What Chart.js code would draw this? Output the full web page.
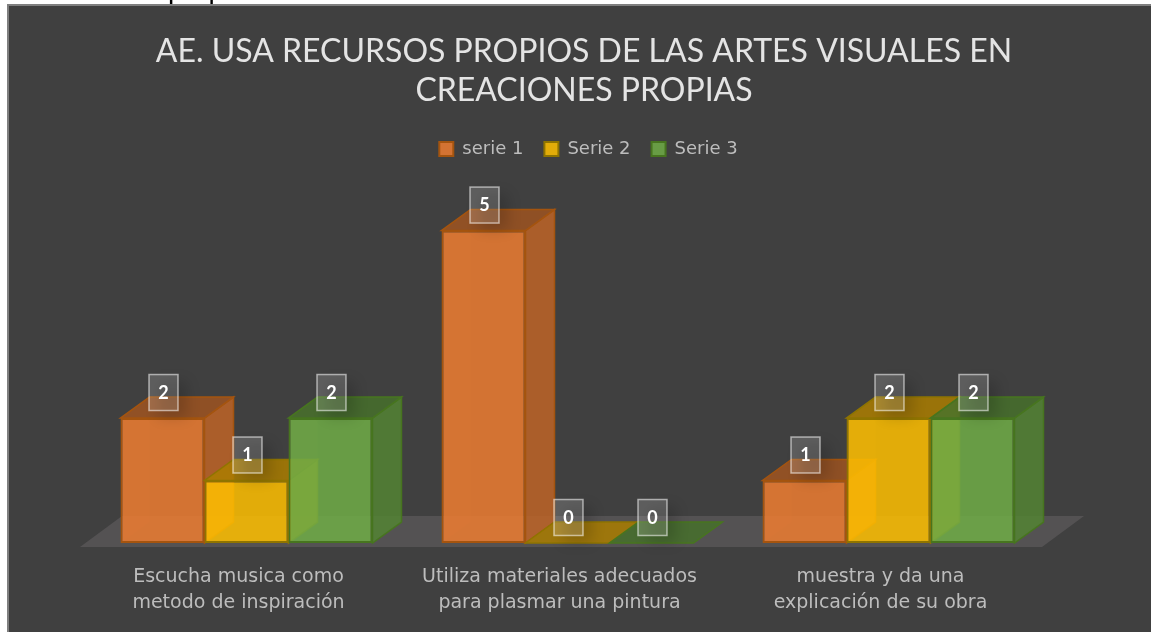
<!DOCTYPE html>
<html>
<head>
<meta charset="utf-8">
<style>html,body{margin:0;padding:0;background:#fff;overflow:hidden}canvas{display:block}</style>
<script src="https://cdn.jsdelivr.net/npm/chart.js@4"></script>
</head>
<body>
<canvas id="c" width="1151" height="632" style="width:1151px;height:632px"></canvas>
<script>
const titleLines = ['AE. USA RECURSOS PROPIOS DE LAS ARTES VISUALES EN', 'CREACIONES PROPIAS'];
const categories = [
  ['Escucha musica como', 'metodo de inspiración'],
  ['Utiliza materiales adecuados', 'para plasmar una pintura'],
  ['muestra y da una', 'explicación de su obra']
];
const serieNames = ['serie 1', 'Serie 2', 'Serie 3'];
const serie1 = [2, 5, 1];
const serie2 = [1, 0, 2];
const serie3 = [2, 0, 2];
const clippedText = 'propias';

const frontColors = ['rgba(237,125,49,.85)', 'rgba(255,192,0,.85)', 'rgba(112,173,71,.85)'];
const sideColors  = ['rgba(190,100,39,.85)', 'rgba(190,145,0,.85)', 'rgba(83,132,52,.85)'];
const topColors   = ['rgba(157,84,33,.85)', 'rgba(170,124,0,.85)', 'rgba(71,112,43,.85)'];
const edgeColors  = ['#a4540f', '#8f7400', '#47751f'];
const DX = 29, DY = 21;

function poly(ctx, pts, fill, stroke) {
  ctx.beginPath();
  pts.forEach((p, i) => i ? ctx.lineTo(p[0], p[1]) : ctx.moveTo(p[0], p[1]));
  ctx.closePath();
  ctx.fillStyle = fill; ctx.fill();
  if (stroke) { ctx.strokeStyle = stroke; ctx.lineWidth = 1.5; ctx.stroke(); }
}

const backdrop = {
  id: 'backdrop',
  afterLayout(chart) {
    chart.legend.left += 4.5;
    chart.legend.right += 4.5;
  },
  beforeDraw(chart) {
    const ctx = chart.ctx;
    ctx.save();
    ctx.fillStyle = '#fff'; ctx.fillRect(0, 0, chart.width, chart.height);
    ctx.fillStyle = '#000'; ctx.font = '28px "Liberation Sans"';
    ctx.textAlign = 'left'; ctx.textBaseline = 'alphabetic';
    ctx.fillText(clippedText, 168, -2);
    ctx.fillStyle = '#7f7f7f'; ctx.fillRect(7, 4, chart.width - 7, chart.height - 4);
    ctx.fillStyle = '#404040'; ctx.fillRect(9, 6, chart.width - 9, chart.height - 6);
    ctx.restore();
  }
};

const solid3d = {
  id: 'solid3d',
  beforeDatasetsDraw(chart) {
    const ctx = chart.ctx, a = chart.chartArea, y0 = chart.scales.y.getPixelForValue(0);
    ctx.save();
    poly(ctx, [[a.left - 6, y0 + 4], [a.right - 7, y0 + 4], [a.right + 35, y0 - 27], [a.left + 36, y0 - 27]], '#545253');
    chart.data.datasets.forEach((ds, di) => {
      const meta = chart.getDatasetMeta(di);
      meta.data.forEach(bar => {
        const l = bar.x - bar.width / 2, r = bar.x + bar.width / 2, t = bar.y, b = bar.base;
        poly(ctx, [[l, t], [l + DX, t - DY], [l + DX, b - DY], [l, b]], 'rgba(255,150,40,.05)');
        if (b - t > 1) poly(ctx, [[r, t], [r + DX, t - DY], [r + DX, b - DY], [r, b]], sideColors[di], edgeColors[di]);
        poly(ctx, [[l, t], [r, t], [r + DX, t - DY], [l + DX, t - DY]], topColors[di], edgeColors[di]);
      });
      meta.controller.draw();
    });
    chart.data.datasets.forEach((ds, di) => {
      chart.getDatasetMeta(di).data.forEach((bar, i) => {
        const cx = bar.x + 1, cy = bar.y - 25.5;
        ctx.save();
        ctx.shadowColor = 'rgba(0,0,0,1)'; ctx.shadowBlur = 14; ctx.shadowOffsetX = 9; ctx.shadowOffsetY = 7;
        ctx.fillStyle = 'rgba(255,255,255,.16)';
        ctx.fillRect(cx - 14.5, cy - 18, 29, 36);
        ctx.restore();
        ctx.strokeStyle = 'rgba(255,255,255,.55)'; ctx.lineWidth = 1.5;
        ctx.strokeRect(cx - 14.5, cy - 18, 29, 36);
        ctx.fillStyle = '#fff'; ctx.font = 'bold 18px Lato';
        ctx.textAlign = 'center'; ctx.textBaseline = 'middle';
        ctx.fillText(String(ds.data[i]), cx, cy + 0.5);
      });
    });
    ctx.restore();
    return false;
  }
};

const yMax = 6;
const hiddenAxis = width => ({
  display: true, min: 0, max: yMax, ticks: { display: false }, grid: { display: false }, border: { display: false },
  afterFit(s) { s.width = width; }
});

new Chart(document.getElementById('c'), {
  type: 'bar',
  data: {
    labels: categories,
    datasets: [serie1, serie2, serie3].map((d, i) => ({
      label: serieNames[i], data: d,
      backgroundColor: frontColors[i], borderColor: edgeColors[i], borderWidth: 2, borderSkipped: false,
      categoryPercentage: 0.785, barPercentage: 1
    }))
  },
  options: {
    responsive: false, animation: false, devicePixelRatio: 1,
    layout: { padding: { left: 17, right: 0, top: 0, bottom: 0 } },
    plugins: {
      tooltip: { enabled: false },
      title: {
        display: true, text: titleLines, color: '#e4e4e4',
        font: { family: 'Lato', size: 32, weight: 'normal', lineHeight: 1.22 },
        padding: { top: 32, bottom: 9 }
      },
      legend: {
        display: true, position: 'top',
        labels: { color: '#bdbdbd', font: { family: '"DejaVu Sans"', size: 18 }, boxWidth: 14, boxHeight: 14, padding: 21 }
      }
    },
    scales: {
      x: {
        grid: { display: false }, border: { display: false },
        ticks: { color: '#bdbdbd', font: { family: '"DejaVu Sans"', size: 19, lineHeight: 1.37 }, padding: 13, labelOffset: -8, maxRotation: 0, autoSkip: false },
        afterFit(s) { s.height = 89; }
      },
      y: hiddenAxis(69),
      y2: Object.assign(hiddenAxis(102), { position: 'right' })
    }
  },
  plugins: [backdrop, solid3d]
});
</script>
</body>
</html>
